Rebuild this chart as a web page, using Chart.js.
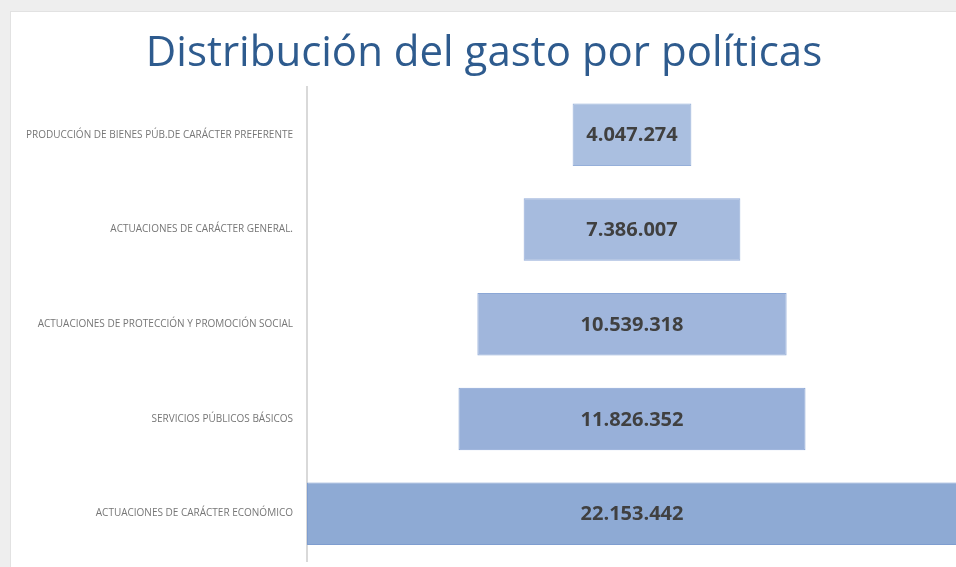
<!DOCTYPE html>
<html>
<head>
<meta charset="utf-8">
<script src="https://cdn.jsdelivr.net/npm/chart.js@4"></script>
<style>
  html, body { margin: 0; padding: 0; background: #eeeeee; overflow: hidden; }
  .panel {
    position: absolute; left: 10px; top: 11px; width: 946px; height: 556px;
    background: #ffffff; border-left: 1px solid #e2e2e2; border-top: 1px solid #e2e2e2;
  }
  canvas { display: block; }
</style>
</head>
<body>
<div class="panel"><canvas id="chart" width="946" height="556"></canvas></div>
<script>
// datos del gráfico
const categories = [
    'PRODUCCIÓN DE BIENES PÚB.DE CARÁCTER PREFERENTE',
    'ACTUACIONES DE CARÁCTER GENERAL.',
    'ACTUACIONES DE PROTECCIÓN Y PROMOCIÓN SOCIAL',
    'SERVICIOS PÚBLICOS BÁSICOS',
    'ACTUACIONES DE CARÁCTER ECONÓMICO'
];
const values = [4047274, 7386007, 10539318, 11826352, 22153442];
const barColors = ['#aabfe0', '#a6bbde', '#a0b6dc', '#98b0d9', '#8eaad4'];
const borderColors = ['#95afd9', '#91abd8', '#8ba7d6', '#85a2d3', '#7e9dcf'];

const maxValue = Math.max(...values);
const center = maxValue / 2;

// formato 1.234.567
const formatNumber = v => String(v).replace(/\B(?=(\d{3})+(?!\d))/g, '.');

// etiquetas de valor en el centro de cada barra
const valueLabels = {
    id: 'valueLabels',
    afterDatasetsDraw(chart) {
        const { ctx } = chart;
        const meta = chart.getDatasetMeta(0);
        ctx.save();
        ctx.font = 'bold 20px "Open Sans", sans-serif';
        ctx.fillStyle = '#404040';
        ctx.textAlign = 'center';
        ctx.textBaseline = 'middle';
        meta.data.forEach((bar, i) => {
            const x = chart.scales.x.getPixelForValue(center);
            ctx.fillText(formatNumber(values[i]), x, bar.y + 1);
        });
        ctx.restore();
    }
};

new Chart(document.getElementById('chart'), {
    type: 'bar',
    data: {
        labels: categories,
        datasets: [{
            data: values.map(v => [center - v / 2, center + v / 2]),
            backgroundColor: barColors,
            borderColor: borderColors,
            borderWidth: 1,
            borderSkipped: false,
            categoryPercentage: 1,
            barPercentage: 0.66
        }]
    },
    options: {
        indexAxis: 'y',
        responsive: false,
        animation: false,
        layout: { padding: { left: 0, right: 0, top: 0, bottom: 7 } },
        plugins: {
            legend: { display: false },
            tooltip: { enabled: false },
            title: {
                display: true,
                text: 'Distribución del gasto por políticas',
                color: '#2e5b8e',
                font: { family: '"Open Sans", sans-serif', size: 42, weight: 'normal' },
                padding: { top: 17, bottom: 8 }
            }
        },
        scales: {
            x: {
                display: false,
                min: 0,
                max: maxValue
            },
            y: {
                afterFit(scale) {
                    scale.width = 296;
                    scale.paddingTop = 0;
                    scale.paddingBottom = 0;
                },
                grid: { display: false },
                border: { display: true, color: '#d9d9d9', width: 2 },
                ticks: {
                    color: '#767676',
                    padding: 6,
                    font: { family: '"Open Sans", sans-serif', size: 10 }
                }
            }
        }
    },
    plugins: [valueLabels]
});
</script>
</body>
</html>
